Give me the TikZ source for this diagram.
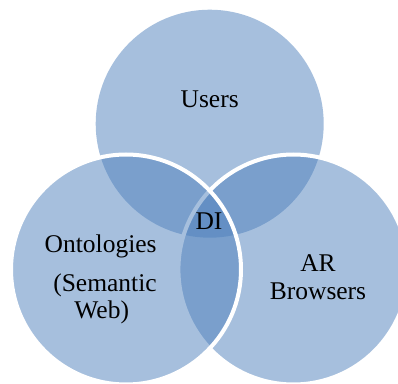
\documentclass[tikz,border=0pt]{standalone}
\usepackage{fontspec}
\setmainfont{Liberation Serif}
\definecolor{venn}{HTML}{4F81BD}
\begin{document}
\begin{tikzpicture}[x=1pt,y=1pt,
  setc/.style={circle, inner sep=0pt, outer sep=0pt, fill=venn, fill opacity=0.5},
  rimc/.style={setc, draw=white, line width=4pt},
  lbl/.style={anchor=base, inner sep=0pt, font=\fontsize{25.5}{30}\selectfont, text=black}]
\useasboundingbox (0,0) rectangle (398,383);
\fill[white] (0,0) rectangle (398,383);
\node[setc, minimum size=228pt] (top) at (209.7,259.3) {};
\node[rimc, minimum size=230pt] (right) at (293.4,113.5) {};
\node[rimc, minimum size=230pt] (left) at (126,113.5) {};
\node[lbl] (users) at (209.7,275) {Users};
\node[lbl] (di) at (209,154) {DI};
\node[lbl] (onto) at (100.7,131) {Ontologies};
\node[lbl] (sem) at (105,91.3) {(Semantic};
\node[lbl] (web) at (101.7,65) {Web)};
\node[lbl] (ar) at (318,111.3) {AR};
\node[lbl] (brow) at (318,84) {Browsers};
\end{tikzpicture}
\end{document}
